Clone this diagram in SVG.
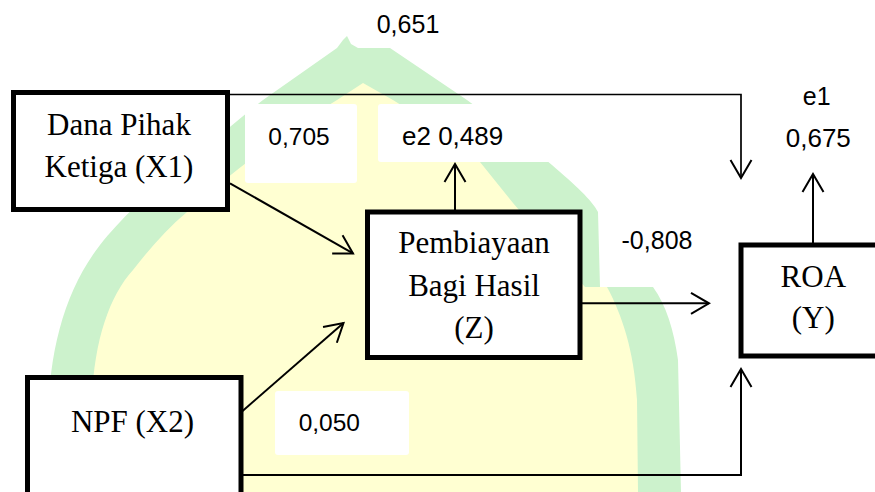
<svg xmlns="http://www.w3.org/2000/svg" width="875" height="492" viewBox="0 0 875 492">
  <style>
    .box { fill: #ffffff; stroke: #000000; stroke-width: 5; }
    .label-bg { fill: #ffffff; }
    .serif { font-family: "Liberation Serif", "Times New Roman", serif; font-size: 31px; fill: #000000; text-anchor: middle; }
    .sans { font-family: "Liberation Sans", Arial, sans-serif; font-size: 25px; fill: #000000; text-anchor: middle; }
    .conn { fill: none; stroke: #000000; stroke-width: 2; }
  </style>
  <defs>
    <marker id="arrow" markerUnits="userSpaceOnUse" markerWidth="26" markerHeight="26" viewBox="-22 -13 26 26" refX="0" refY="0" orient="auto">
      <path d="M-18,-10.5 L0,0 L-18,10.5" fill="none" stroke="#000000" stroke-width="2"/>
    </marker>
  </defs>

  <rect x="0" y="0" width="875" height="492" fill="#ffffff"/>

  <!-- background emblem -->
  <g id="emblem">
    <path fill="#ccf2cc" d="M 337,48 L 343,40 L 347,36 L 351,44 L 358,48 L 390,48 L 467,100 C 500,124 530,146 552,165 C 575,185 592,200 598,212 L 600,287 L 653,287 C 666,305 674,330 678,360 L 681,492 L 46,492 L 48,420 C 49,350 65,290 100,245 C 120,220 145,195 185,165 C 215,140 240,118 263,100 Z"/>
    <path fill="#ffffd2" d="M 363,83 L 393,100 C 425,120 455,142 480,162 L 513,203 L 585,287 L 607,287 C 622,315 634,350 637,400 L 638,492 L 90,492 L 92,400 C 94,340 110,295 133,270 C 150,248 168,228 187,212 C 240,165 295,125 337,100 Z"/>
  </g>

  <!-- label backgrounds -->
  <g id="label-backgrounds">
    <rect class="label-bg" x="245" y="104" width="112" height="79" rx="3"/>
    <rect class="label-bg" x="378" y="104" width="190" height="58" rx="3"/>
    <rect class="label-bg" x="275" y="391" width="134" height="64" rx="3"/>
  </g>

  <!-- connectors -->
  <g id="connectors">
    <path class="conn" style="stroke-width:1.7" d="M 230,94.5 L 741,94.5 L 741,178" marker-end="url(#arrow)"/>
    <path class="conn" d="M 243,475 L 741,475 L 741,369" marker-end="url(#arrow)"/>
    <path class="conn" d="M 230,183.3 L 353,253.4" marker-end="url(#arrow)"/>
    <path class="conn" d="M 241.7,411.7 L 343.5,323" marker-end="url(#arrow)"/>
    <path class="conn" d="M 582,303.3 L 709,303.3" marker-end="url(#arrow)"/>
    <path class="conn" d="M 455,210 L 455,164" marker-end="url(#arrow)"/>
    <path class="conn" d="M 813,243 L 813,174" marker-end="url(#arrow)"/>
  </g>

  <!-- path coefficients -->
  <g id="coefficients">
    <text class="sans" x="408" y="33.3">0,651</text>
    <text class="sans" x="299" y="145" style="font-size:24.5px">0,705</text>
    <text class="sans" x="402" y="145" style="text-anchor:start;font-size:26px">e2 0,489</text>
    <text class="sans" x="816.7" y="105">e1</text>
    <text class="sans" x="818.3" y="146.7" style="font-size:26px">0,675</text>
    <text class="sans" x="657" y="249.3">-0,808</text>
    <text class="sans" x="329.3" y="430.7" style="font-size:24.5px">0,050</text>
  </g>

  <g id="node-x1">
    <rect class="box" x="13.5" y="92.5" width="214" height="117"/>
    <text class="serif" x="119" y="135">Dana Pihak</text>
    <text class="serif" x="119" y="176.7">Ketiga (X1)</text>
  </g>

  <g id="node-z">
    <rect class="box" x="367.5" y="212" width="212.5" height="145.5"/>
    <text class="serif" x="474" y="253">Pembiayaan</text>
    <text class="serif" x="474" y="295.5">Bagi Hasil</text>
    <text class="serif" x="474" y="338">(Z)</text>
  </g>

  <g id="node-y">
    <rect class="box" x="741" y="245" width="145" height="111"/>
    <text class="serif" x="813.3" y="286.7">ROA</text>
    <text class="serif" x="813.3" y="328.3">(Y)</text>
  </g>

  <g id="node-x2">
    <rect class="box" x="27.5" y="377.5" width="213.5" height="130"/>
    <text class="serif" x="132.5" y="431.7">NPF (X2)</text>
  </g>
</svg>
